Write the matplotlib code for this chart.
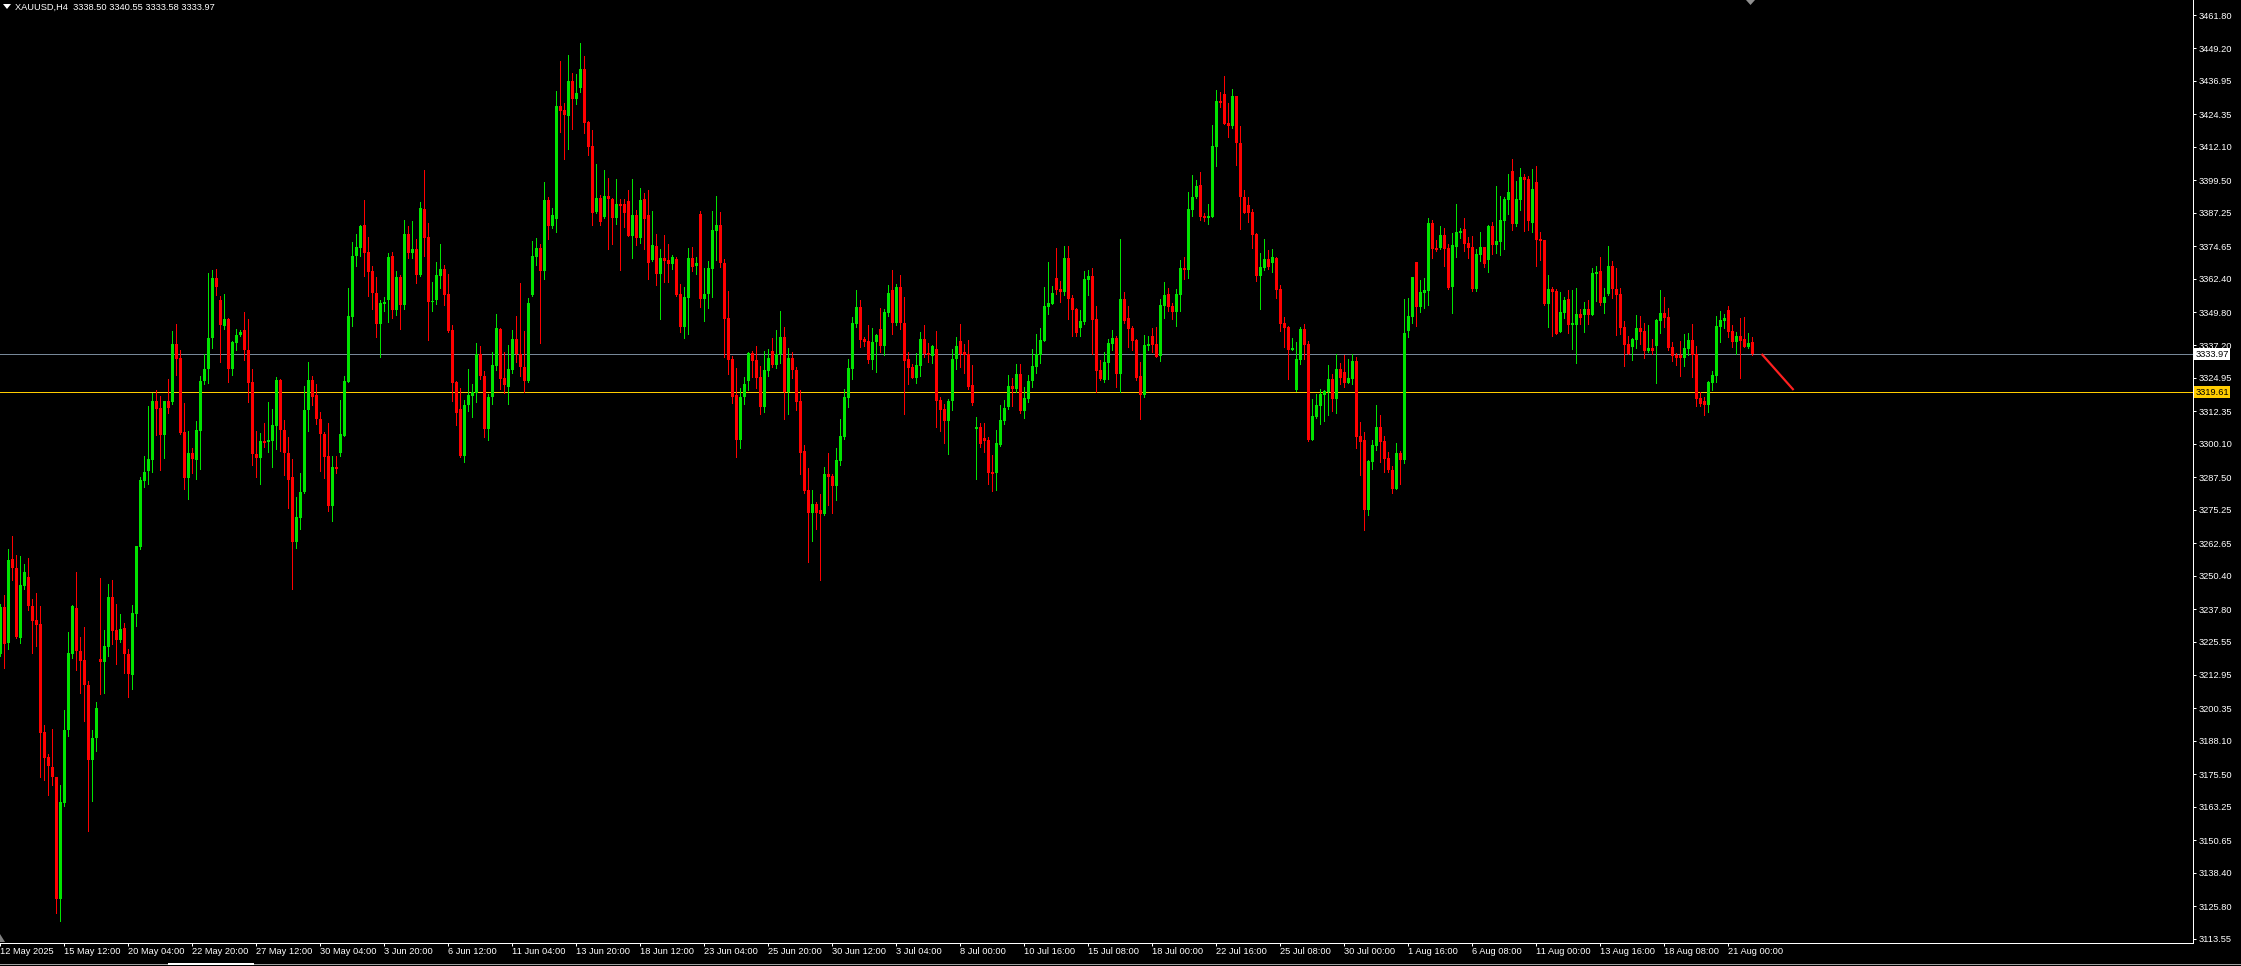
import matplotlib
matplotlib.use("Agg")
import matplotlib.pyplot as plt
from matplotlib.patches import Polygon
from matplotlib.lines import Line2D
import numpy as np

# ---------------- data (XAUUSD H4) ----------------
opens = [
 3220.8,3238.5,3225.0,3256.5,3253.3,3227.0,3246.6,3249.9,3239.0,3233.6,
 3232.1,3191.5,3182.1,3178.2,3174.5,3128.5,3164.7,3192.2,3220.8,3238.1,
 3222.1,3218.6,3209.3,3180.7,3189.2,3219.1,3217.9,3223.6,3242.2,3229.9,
 3226.2,3230.6,3220.8,3213.0,3236.0,3261.2,3286.1,3289.8,3294.0,3316.2,
 3313.7,3303.3,3316.2,3315.9,3337.8,3332.4,3304.6,3287.3,3296.6,3294.0,
 3305.1,3323.8,3328.5,3340.0,3362.5,3354.3,3344.5,3347.2,3328.5,3338.3,
 3341.0,3343.0,3335.6,3323.5,3296.2,3294.9,3301.1,3300.8,3301.3,3307.0,
 3324.2,3305.3,3296.6,3287.6,3263.2,
 3272.2,3281.9,3312.9,3324.2,3318.6,3309.3,3303.9,3295.6,3276.7,3291.2,
 3296.6,3303.2,3323.5,3347.9,3370.8,3373.9,3382.7,3372.5,3365.4,3356.9,
 3345.1,3353.0,3354.4,3370.9,3350.5,3363.1,3352.6,3379.3,3372.0,3373.6,
 3363.8,3388.8,3378.1,3353.7,3354.4,3363.2,3366.1,3356.6,3343.1,3323.5,
 3313.3,3295.6,3314.6,3318.3,3319.3,3333.9,3325.6,3305.8,3317.6,3329.5,
 3343.4,3324.9,3321.4,3327.8,3339.5,3333.9,3328.9,3323.9,3356.1,3370.6,
 3374.1,3365.4,3392.0,3382.1,3384.9,3427.4,3425.9,3423.8,3436.8,3430.2,
 3434.2,3441.4,3421.4,
 3412.4,3387.5,3392.7,3385.5,3393.5,3392.3,3385.4,3390.5,3390.5,3391.7,
 3378.5,3386.4,3377.8,3392.3,3386.4,3369.4,3374.7,3364.1,3370.2,3369.4,
 3367.9,3369.9,3356.6,3344.3,3355.1,3370.2,3367.1,3386.8,3354.7,3356.6,
 3366.0,3380.5,3382.6,3368.3,3347.5,3332.1,3318.5,3301.5,3317.9,3323.9,
 3334.2,3331.7,3325.3,3314.0,3327.7,3335.1,3329.8,3333.8,3340.4,3319.6,
 3332.5,3327.9,3316.2,3297.4,3282.7,3273.9,3277.4,3275.1,3273.5,3288.7,
 3287.9,3284.3,3293.7,3302.8,3317.5,3328.3,3345.4,3351.7,3339.6,3339.0,
 3331.7,3338.5,
 3343.4,3337.0,3349.5,3358.1,3345.5,3359.4,3345.8,3332.1,3329.2,3325.1,
 3329.6,3339.7,3334.5,3333.3,3335.9,3316.6,3313.4,3308.8,3316.4,3332.0,
 3338.9,3334.9,3334.0,3322.3,3305.8,3306.6,3302.3,3301.5,3289.6,3289.0,
 3299.5,3308.7,3314.1,3321.9,3320.8,3326.4,3312.6,3317.0,3323.8,3329.1,
 3333.6,3338.9,3351.8,3352.9,3362.6,3358.5,3357.5,3370.3,3355.1,3350.9,
 3343.9,3346.0,3361.9,3363.5,3347.2,3327.9,3324.2,3330.7,3337.9,3340.1,
 3326.6,3354.7,3347.5,3343.9,3339.4,3325.7,3318.6,3337.1,3340.9,3337.9,
 3333.3,3352.2,3356.6,
 3352.1,3349.7,3356.2,3366.3,3365.6,3388.3,3393.2,3397.6,3386.0,3385.4,
 3385.8,3412.2,3429.4,3432.0,3421.1,3420.1,3431.3,3413.7,3393.3,3390.2,
 3387.5,3379.3,3363.4,3366.5,3369.8,3368.4,3370.3,3358.6,3345.7,3344.1,
 3335.6,3320.4,3331.8,3343.5,3337.9,3301.5,3310.2,3314.4,3318.5,3319.8,
 3324.5,3317.0,3328.3,3327.2,3323.2,3324.5,3331.3,3303.1,3301.5,3275.1,
 3293.4,3299.4,3306.4,3301.2,3294.9,3290.4,3283.1,3296.6,3294.0,3342.8,
 3348.0,3368.8,3351.8,3357.1,3357.9,3383.5,3374.1,3374.1,3379.0,3373.9,
 3359.4,3374.4,
 3379.7,3381.1,3375.8,3374.4,3358.5,3371.3,3374.3,3369.4,3382.2,3375.1,
 3376.3,3384.1,3392.0,3403.0,3383.0,3392.0,3400.7,3400.0,3383.5,3398.8,
 3377.3,3376.9,3352.8,3358.5,3357.7,3342.3,3349.4,3354.7,3344.9,3344.9,
 3349.0,3348.7,3350.9,3348.7,3364.1,3365.3,3353.2,3356.6,3367.2,3358.5,
 3356.6,3344.2,3337.7,3336.6,3339.2,3343.8,3342.6,3335.1,3336.2,3337.0,
 3346.4,3349.4,3347.9,3336.6,3333.6,3333.6,3332.5,3335.9,3339.2,3334.0,
 3317.4,3316.3,3314.7,3323.0,3325.7,3344.2,3346.4,3350.6,3342.6,3338.5,
 3340.8,3339.6,3336.6,3338.50,
]

highs = [
 3239.6,3243.0,3260.4,3265.4,3258.3,3257.8,3254.8,3257.0,3241.7,3244.0,
 3239.0,3194.2,3183.1,3192.5,3174.5,3171.5,3199.7,3229.2,3239.3,3251.9,
 3227.2,3231.1,3210.7,3192.2,3202.8,3249.4,3230.0,3247.4,3248.6,3239.6,
 3236.0,3232.6,3222.8,3239.3,3261.5,3287.6,3295.5,3314.2,3319.3,3320.5,
 3318.1,3316.2,3324.7,3342.7,3345.2,3335.4,3315.4,3305.0,3298.7,3308.7,
 3325.7,3334.1,3364.4,3365.6,3366.1,3356.0,3356.6,3347.4,3338.8,3343.4,
 3343.0,3349.8,3347.2,3328.4,3305.0,3304.1,3308.0,3315.7,3313.2,3325.3,
 3324.7,3309.0,3302.8,3294.5,3280.0,
 3289.2,3321.9,3331.0,3325.6,3322.7,3312.0,3304.4,3308.1,3295.6,3295.6,
 3316.7,3325.6,3358.8,3376.3,3379.3,3382.8,3392.0,3378.1,3367.2,3363.1,
 3354.3,3355.4,3372.0,3372.5,3365.4,3363.7,3384.5,3382.2,3384.1,3377.4,
 3391.3,3403.4,3383.4,3361.1,3368.6,3375.4,3367.5,3364.2,3344.9,3323.9,
 3321.2,3316.7,3328.3,3322.5,3338.1,3337.0,3327.6,3319.0,3334.7,3349.0,
 3343.9,3334.6,3337.4,3343.1,3348.3,3360.8,3342.7,3355.1,3376.6,3377.7,
 3375.3,3398.8,3393.1,3389.0,3433.2,3444.5,3428.5,3446.8,3439.8,3439.5,
 3451.2,3446.2,3421.7,
 3418.4,3405.6,3393.9,3403.4,3400.2,3392.7,3399.9,3392.3,3392.4,3395.8,
 3399.9,3388.3,3396.6,3394.8,3395.8,3387.9,3379.2,3373.6,3378.8,3375.4,
 3371.4,3370.7,3360.4,3359.2,3374.1,3374.3,3370.7,3387.9,3366.5,3369.0,
 3387.9,3393.5,3387.5,3369.8,3357.7,3333.2,3328.7,3321.3,3325.3,3334.8,
 3335.1,3337.0,3329.4,3335.1,3335.9,3340.0,3343.0,3350.2,3344.1,3336.2,
 3334.7,3329.2,3320.4,3299.6,3291.0,3282.7,3278.2,3281.2,3291.4,3296.6,
 3288.7,3298.5,3309.5,3320.8,3332.1,3347.9,3358.1,3354.3,3340.4,3344.9,
 3343.8,3341.6,
 3351.4,3350.8,3360.0,3365.6,3360.4,3363.8,3355.5,3334.8,3330.1,3334.5,
 3342.3,3344.9,3338.3,3337.4,3342.6,3317.7,3315.1,3317.0,3335.9,3340.4,
 3345.3,3337.9,3339.2,3329.8,3310.3,3307.8,3307.8,3302.5,3295.9,3305.3,
 3314.7,3316.6,3326.1,3324.9,3330.2,3330.2,3321.7,3326.1,3335.9,3341.5,
 3343.9,3359.2,3368.7,3359.7,3374.1,3361.5,3374.7,3374.7,3356.2,3351.3,
 3350.6,3365.4,3365.6,3366.5,3352.2,3331.8,3334.9,3339.8,3343.0,3340.9,
 3377.5,3357.4,3352.1,3344.6,3339.8,3330.9,3341.1,3340.8,3343.9,3344.1,
 3354.8,3361.1,3359.0,
 3353.3,3358.5,3369.4,3370.4,3394.9,3401.5,3399.6,3402.6,3387.3,3390.5,
 3420.3,3433.5,3432.8,3438.8,3428.7,3433.9,3431.3,3419.9,3395.8,3393.2,
 3388.6,3379.6,3372.2,3377.3,3373.2,3373.6,3370.5,3360.1,3348.1,3344.7,
 3340.1,3338.5,3344.3,3345.4,3338.9,3317.0,3318.9,3320.8,3320.5,3329.8,
 3326.4,3334.0,3330.7,3333.6,3332.1,3333.8,3332.8,3308.3,3304.5,3294.0,
 3301.5,3314.7,3311.0,3303.0,3297.0,3291.9,3300.4,3297.4,3354.7,3355.2,
 3363.1,3368.8,3361.9,3362.6,3385.3,3384.5,3376.9,3382.2,3381.6,3375.6,
 3379.7,3390.5,
 3381.6,3385.4,3378.1,3378.5,3373.4,3380.0,3374.4,3382.6,3383.7,3397.3,
 3393.6,3393.2,3401.8,3407.5,3399.2,3404.1,3401.8,3401.1,3403.7,3404.9,
 3380.0,3376.9,3363.8,3359.2,3358.5,3357.4,3355.5,3358.1,3358.1,3358.9,
 3350.9,3353.6,3354.3,3366.4,3367.1,3370.6,3358.9,3374.7,3369.0,3366.4,
 3358.9,3346.4,3340.8,3340.0,3348.7,3348.3,3345.7,3344.9,3339.6,3347.2,
 3358.1,3355.5,3351.3,3338.5,3334.3,3338.9,3341.5,3341.9,3345.3,3337.0,
 3319.6,3317.8,3323.8,3327.6,3348.3,3350.2,3349.1,3352.1,3344.9,3342.3,
 3347.5,3347.9,3341.9,3340.55,
]

lows = [
 3220.0,3215.7,3222.8,3248.6,3226.7,3225.0,3245.5,3237.3,3221.1,3223.8,
 3174.5,3173.3,3167.8,3171.5,3123.2,3120.1,3163.6,3190.0,3219.5,3214.9,
 3206.2,3195.5,3154.0,3165.6,3184.3,3205.6,3206.2,3220.0,3224.7,3216.9,
 3225.3,3213.7,3204.5,3207.8,3231.4,3260.4,3283.9,3285.1,3289.3,3303.3,
 3290.3,3294.9,3311.7,3315.1,3326.0,3303.8,3283.1,3279.2,3289.0,3287.0,
 3290.7,3322.5,3323.0,3336.4,3356.3,3331.1,3343.4,3323.5,3326.0,3335.3,
 3340.8,3331.6,3315.9,3292.3,3287.6,3285.1,3298.9,3297.1,3291.5,3298.2,
 3297.4,3288.5,3275.8,3245.2,3260.9,
 3267.8,3281.7,3304.8,3314.7,3307.6,3289.9,3287.4,3274.9,3271.0,3289.2,
 3295.6,3303.2,3323.5,3344.4,3367.2,3370.8,3363.2,3356.0,3351.0,3340.5,
 3333.0,3350.3,3346.1,3347.6,3348.8,3343.4,3350.8,3370.2,3370.3,3360.8,
 3363.5,3370.9,3339.4,3350.2,3353.0,3358.8,3352.4,3342.2,3316.4,3307.1,
 3295.0,3293.4,3312.4,3310.3,3315.9,3324.7,3302.8,3301.5,3315.3,3328.1,
 3320.7,3319.1,3315.3,3326.9,3331.0,3325.6,3319.7,3323.4,3355.9,3367.5,
 3338.1,3362.2,3377.4,3381.5,3379.8,3417.8,3407.5,3411.3,3418.8,3428.2,
 3432.7,3417.4,3409.0,
 3382.6,3387.0,3382.6,3385.1,3373.6,3375.4,3383.0,3365.6,3381.7,3378.5,
 3370.3,3375.1,3375.7,3373.6,3362.2,3369.0,3359.9,3347.3,3361.2,3361.2,
 3366.0,3355.9,3342.4,3340.1,3341.6,3365.3,3364.1,3351.8,3346.4,3351.4,
 3355.6,3369.4,3366.8,3332.8,3326.6,3315.6,3295.3,3298.6,3315.2,3320.4,
 3325.3,3321.3,3311.5,3312.2,3325.8,3329.1,3328.8,3330.7,3309.5,3311.5,
 3325.0,3312.8,3288.8,3281.7,3255.7,3263.6,3268.0,3248.9,3273.3,3277.0,
 3274.1,3279.0,3292.1,3301.9,3314.1,3324.7,3344.1,3336.6,3337.0,3330.7,
 3328.4,3327.3,
 3334.8,3333.6,3348.4,3341.6,3344.9,3343.4,3311.4,3322.7,3324.8,3323.2,
 3325.8,3332.7,3330.9,3330.7,3306.6,3305.1,3300.4,3296.1,3312.9,3328.4,
 3328.9,3326.9,3320.6,3314.7,3286.8,3299.0,3296.9,3284.8,3282.4,3282.7,
 3299.3,3307.7,3313.4,3314.5,3319.8,3311.9,3310.0,3316.0,3321.7,3326.9,
 3330.7,3338.9,3349.2,3352.9,3356.6,3353.7,3356.3,3347.0,3340.9,3340.9,
 3340.9,3345.4,3356.3,3334.1,3319.8,3324.2,3323.5,3324.7,3335.6,3321.6,
 3319.6,3345.8,3336.7,3335.5,3324.2,3309.6,3317.9,3335.6,3334.8,3332.8,
 3331.5,3347.7,3350.3,
 3347.2,3344.7,3350.2,3362.3,3362.7,3386.0,3392.9,3384.5,3384.1,3383.1,
 3385.8,3405.0,3427.2,3420.8,3415.8,3419.3,3405.2,3381.1,3387.0,3383.9,
 3374.1,3361.6,3351.1,3365.8,3365.9,3364.9,3355.2,3342.8,3336.5,3324.5,
 3335.5,3320.0,3330.2,3332.1,3301.2,3301.5,3310.0,3307.7,3308.8,3311.1,
 3312.6,3311.8,3322.7,3321.7,3322.9,3322.8,3298.4,3288.5,3267.7,3273.4,
 3290.5,3297.8,3293.4,3289.6,3289.6,3281.4,3283.1,3285.1,3293.0,3340.2,
 3345.8,3344.7,3349.9,3351.4,3352.6,3370.3,3372.9,3373.4,3367.3,3358.4,
 3349.6,3370.4,
 3377.6,3372.9,3370.3,3357.9,3357.7,3369.2,3366.8,3365.0,3371.7,3372.2,
 3371.3,3373.7,3386.8,3380.7,3382.2,3388.3,3380.3,3380.7,3380.0,3367.3,
 3369.4,3352.4,3344.2,3340.9,3341.6,3342.3,3347.5,3341.9,3335.9,3330.6,
 3345.3,3342.3,3345.3,3348.7,3353.9,3352.5,3349.4,3356.2,3355.1,3341.1,
 3341.5,3329.4,3334.0,3331.7,3336.2,3337.7,3332.5,3334.7,3334.0,3323.0,
 3341.9,3344.2,3335.5,3331.3,3329.8,3325.7,3329.4,3333.6,3325.3,3314.4,
 3314.4,3311.0,3312.1,3320.4,3323.4,3338.5,3343.8,3340.4,3336.6,3333.9,
 3324.9,3336.6,3336.2,3333.58,
]

closes = [
 3238.5,3224.5,3256.2,3253.1,3227.2,3246.9,3251.6,3238.8,3233.3,3231.9,
 3191.0,3181.6,3178.7,3174.5,3128.5,3165.1,3192.2,3221.1,3239.0,3222.1,
 3218.3,3209.0,3180.7,3189.2,3200.6,3217.9,3223.8,3242.2,3229.7,3226.2,
 3230.4,3220.8,3213.2,3236.3,3261.5,3286.5,3289.5,3294.4,3316.2,3313.4,
 3303.3,3316.2,3313.7,3337.8,3332.2,3304.1,3287.3,3296.6,3294.4,3305.3,
 3323.8,3328.5,3340.0,3362.5,3359.3,3344.9,3347.2,3328.5,3338.5,3341.2,
 3342.3,3335.6,3323.0,3296.1,3294.9,3301.1,3300.3,3301.6,3307.2,3324.2,
 3305.3,3296.6,3286.5,3263.2,3272.5,
 3281.9,3312.9,3324.2,3317.6,3309.3,3303.7,3295.1,3276.7,3291.2,3290.5,
 3303.7,3323.8,3348.3,3371.0,3374.3,3382.4,3372.2,3364.9,3356.9,3345.1,
 3353.2,3353.7,3370.6,3350.5,3363.1,3352.6,3379.3,3372.0,3373.6,3363.8,
 3389.0,3377.7,3353.7,3354.0,3363.8,3366.1,3356.4,3342.7,3323.2,3311.9,
 3295.4,3314.6,3318.6,3319.5,3333.9,3325.6,3305.8,3317.8,3329.9,3343.8,
 3324.7,3322.4,3328.3,3339.5,3333.9,3328.9,3323.9,3353.2,3370.9,3374.1,
 3365.1,3392.0,3382.4,3386.4,3427.4,3425.6,3424.2,3436.8,3430.2,3432.5,
 3441.4,3421.1,3412.2,
 3387.3,3392.7,3383.9,3393.5,3392.3,3385.4,3390.5,3389.8,3387.3,3378.5,
 3386.4,3377.8,3392.0,3384.7,3368.2,3375.1,3364.1,3370.2,3369.0,3367.9,
 3370.5,3356.2,3344.3,3355.4,3370.2,3366.9,3368.4,3354.7,3356.6,3366.5,
 3380.7,3382.6,3368.4,3347.2,3331.7,3317.9,3301.5,3317.9,3322.7,3334.2,
 3331.3,3325.0,3314.1,3327.9,3332.5,3329.8,3334.0,3340.4,3319.6,3332.5,
 3328.1,3316.0,3296.8,3282.3,3274.1,3277.4,3274.1,3273.5,3288.7,3287.7,
 3284.3,3294.0,3303.0,3317.9,3328.7,3345.8,3351.7,3339.4,3338.6,3331.7,
 3338.5,3341.1,
 3337.0,3349.9,3357.1,3345.8,3359.4,3345.5,3331.3,3328.8,3325.1,3329.8,
 3339.7,3334.0,3333.6,3337.1,3316.4,3313.0,3308.8,3316.4,3332.1,3337.0,
 3334.0,3333.6,3321.4,3315.4,3306.6,3300.0,3301.3,3289.2,3288.7,3300.4,
 3309.1,3313.7,3321.9,3320.9,3326.4,3312.6,3317.4,3323.8,3329.4,3333.9,
 3339.2,3352.1,3353.2,3356.9,3358.1,3357.5,3370.3,3354.7,3350.6,3342.0,
 3346.4,3362.2,3363.5,3346.8,3327.7,3324.5,3331.0,3338.3,3340.1,3326.6,
 3354.7,3346.4,3343.4,3339.0,3325.1,3318.6,3337.4,3337.9,3337.4,3332.8,
 3352.4,3356.2,3351.8,
 3349.9,3356.5,3366.3,3365.6,3388.6,3393.2,3397.3,3385.8,3385.4,3386.0,
 3412.4,3429.4,3428.5,3420.8,3420.1,3431.3,3413.4,3393.0,3387.3,3387.3,
 3378.9,3363.4,3366.8,3369.8,3366.8,3370.5,3358.2,3345.4,3343.9,3335.6,
 3336.2,3332.1,3343.5,3337.4,3301.5,3310.6,3314.7,3318.9,3320.1,3324.5,
 3317.0,3328.3,3325.1,3323.2,3324.9,3331.3,3302.8,3300.9,3275.1,3293.6,
 3299.7,3306.4,3300.9,3294.4,3290.4,3283.1,3296.6,3294.0,3342.0,3348.4,
 3363.0,3351.8,3357.3,3358.2,3383.5,3373.7,3373.2,3379.0,3373.7,3359.0,
 3375.1,3380.0,
 3380.3,3375.6,3374.1,3358.5,3371.7,3374.3,3367.9,3382.2,3375.1,3376.6,
 3384.5,3392.4,3395.1,3383.0,3392.4,3400.7,3399.6,3384.1,3396.2,3377.0,
 3376.6,3352.8,3358.5,3357.4,3341.6,3349.8,3354.3,3344.9,3345.7,3349.0,
 3347.5,3350.9,3348.7,3364.5,3364.9,3353.2,3355.5,3367.2,3358.5,3356.2,
 3343.8,3337.4,3334.0,3339.6,3343.8,3342.3,3335.1,3336.2,3335.1,3346.8,
 3349.4,3347.5,3336.2,3333.2,3332.5,3332.5,3336.2,3339.2,3333.6,3317.0,
 3315.1,3314.7,3323.4,3326.1,3344.5,3346.8,3347.5,3342.3,3338.5,3340.8,
 3338.9,3336.6,3338.1,3333.97,
]

date_labels = ["12 May 2025", "15 May 12:00", "20 May 04:00", "22 May 20:00",
               "27 May 12:00", "30 May 04:00", "3 Jun 20:00", "6 Jun 12:00",
               "11 Jun 04:00", "13 Jun 20:00", "18 Jun 12:00", "23 Jun 04:00",
               "25 Jun 20:00", "30 Jun 12:00", "3 Jul 04:00", "8 Jul 00:00",
               "10 Jul 16:00", "15 Jul 08:00", "18 Jul 00:00", "22 Jul 16:00",
               "25 Jul 08:00", "30 Jul 00:00", "1 Aug 16:00", "6 Aug 08:00",
               "11 Aug 00:00", "13 Aug 16:00", "18 Aug 08:00", "21 Aug 00:00"]
date_label_bars = [16 * i for i in range(len(date_labels))]

price_ticks = [3461.80, 3449.20, 3436.95, 3424.35, 3412.10, 3399.50, 3387.25,
               3374.65, 3362.40, 3349.80, 3337.20, 3324.95, 3312.35, 3300.10,
               3287.50, 3275.25, 3262.65, 3250.40, 3237.80, 3225.55, 3212.95,
               3200.35, 3188.10, 3175.50, 3163.25, 3150.65, 3138.40, 3125.80,
               3113.55]

bid_price = 3333.97
level_price = 3319.61
trend_bars = [440.4, 448.4]
trend_prices = [3334.0, 3320.4]
title_text = "XAUUSD,H4  3338.50 3340.55 3333.58 3333.97"

# ---------------- figure ----------------
W, H = 2241, 966
DPI = 100
PLOT_W, PLOT_H = 2193, 943
fig = plt.figure(figsize=(W / DPI, H / DPI), dpi=DPI, facecolor="black")
ax = fig.add_axes([0, (H - PLOT_H) / H, PLOT_W / W, PLOT_H / H], facecolor="black")

n = min(len(opens), len(highs), len(lows), len(closes))
o = np.array(opens[:n]); h = np.array(highs[:n]); l = np.array(lows[:n]); c = np.array(closes[:n])
x = np.arange(n)

UP = "#00e400"
DN = "#ff0000"
cols = np.where(c >= o, UP, DN)

px = 1.0 / DPI * 72  # one pixel in points

ax.axhline(bid_price, color="#778899", lw=px, zorder=1)
ax.axhline(level_price, color="#ffcc00", lw=px, zorder=1)

ax.vlines(x, l, h, colors=cols, linewidth=px, antialiased=False, zorder=2)
body_bottom = np.minimum(o, c)
body_h = np.maximum(np.abs(c - o), 0.38)
ax.bar(x, body_h, bottom=body_bottom, width=0.75, color=cols, linewidth=0,
       antialiased=False, zorder=3)

ax.plot(trend_bars, trend_prices, color="#ff2020", lw=2.2 * px, solid_capstyle="butt", zorder=4)

ax.set_xlim(0, PLOT_W / 4.0)
ax.set_ylim(3111.88, 3467.46)

for s in ["top", "left"]:
    ax.spines[s].set_visible(False)
for s in ["right", "bottom"]:
    ax.spines[s].set_color("white")
    ax.spines[s].set_linewidth(px)

FONT = ["Liberation Sans", "DejaVu Sans"]
FS = 6.7

ax.yaxis.tick_right()
ax.set_yticks(price_ticks)
ax.set_yticklabels([f"{v:.2f}" for v in price_ticks])
ax.tick_params(axis="y", colors="white", length=3 * px, width=px, pad=2.5 * px,
               labelsize=FS, labelcolor="white")
ax.set_xticks(date_label_bars)
ax.set_xticklabels(date_labels)
ax.tick_params(axis="x", colors="white", length=3 * px, width=px, pad=1.5 * px,
               labelsize=FS, labelcolor="white")
for lab in ax.get_xticklabels():
    lab.set_horizontalalignment("left")
    lab.set_family(FONT)
for lab in ax.get_yticklabels():
    lab.set_family(FONT)

# price labels on the axis
trans = ax.get_yaxis_transform()
ax.text(1.0 + 2.5 / PLOT_W, bid_price, f"{bid_price:.2f}", transform=trans, color="black",
        fontsize=FS, family=FONT, va="center", ha="left", zorder=10, clip_on=False,
        bbox=dict(boxstyle="square,pad=0.12", fc="white", ec="white", lw=0))
ax.text(1.0 + 2.5 / PLOT_W, level_price, f"{level_price:.2f}", transform=trans, color="black",
        fontsize=FS, family=FONT, va="center", ha="left", zorder=10, clip_on=False,
        bbox=dict(boxstyle="square,pad=0.12", fc="#ffcc00", ec="#ffcc00", lw=0))

# title
fig.text(15 / W, 1 - 7 / H, title_text, color="white", fontsize=FS, family=FONT,
         va="center", ha="left")
tri = Polygon([[3 / W, 1 - 4 / H], [11 / W, 1 - 4 / H], [7 / W, 1 - 9 / H]],
              closed=True, transform=fig.transFigure, fc="white", ec="none")
fig.patches.append(tri)

# chart-shift marker at top
shift = Polygon([[1746 / W, 1.0], [1755 / W, 1.0], [1750.5 / W, 1 - 5 / H]],
                closed=True, transform=fig.transFigure, fc="#909090", ec="none")
fig.patches.append(shift)
# scale marker at bottom-left
sc = Polygon([[0, 1 - 934 / H], [0, 1 - 942 / H], [5 / W, 1 - 942 / H]],
             closed=True, transform=fig.transFigure, fc="#808080", ec="none")
fig.patches.append(sc)

# bottom window line
fig.add_artist(Line2D([0, 1], [1 - 963.5 / H, 1 - 963.5 / H], transform=fig.transFigure,
                      color="#a0a0a0", lw=px))
fig.add_artist(Line2D([169 / W, 253 / W], [1 - 963.5 / H, 1 - 963.5 / H], transform=fig.transFigure,
                      color="white", lw=2 * px))

fig.savefig("out.png", dpi=DPI, facecolor="black")
